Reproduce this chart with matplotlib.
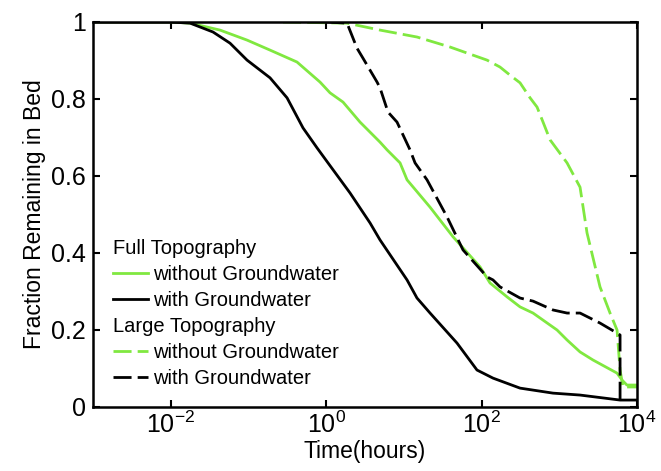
import numpy as np
import matplotlib.pyplot as plt
from matplotlib.lines import Line2D

plt.rcParams['font.family'] = ['Liberation Sans', 'DejaVu Sans']

# log10(time in hours) and fraction remaining
full_nogw_logt = [-3.0, -2.01, -1.75, -1.366, -1.018, -0.722, -0.375, -0.079, 0.05, 0.217,
                  0.436, 0.693, 0.783, 0.951, 1.041, 1.337, 1.633, 1.98, 2.109, 2.328,
                  2.495, 2.662, 2.971, 3.10, 3.267, 3.434, 3.743, 3.807, 3.87, 4.0]
full_nogw_frac = [1.0, 1.0, 0.997, 0.979, 0.953, 0.927, 0.896, 0.844, 0.816, 0.792,
                  0.740, 0.688, 0.668, 0.634, 0.590, 0.519, 0.442, 0.364, 0.322, 0.286,
                  0.260, 0.244, 0.200, 0.174, 0.143, 0.122, 0.088, 0.070, 0.057, 0.057]

full_gw_logt = [-3.0, -2.01, -1.75, -1.456, -1.237, -1.018, -0.722, -0.503, -0.298, -0.117,
                0.024, 0.307, 0.565, 0.693, 1.041, 1.169, 1.337, 1.684, 1.941, 2.147,
                2.495, 2.919, 3.267, 3.782, 4.0]
full_gw_frac = [1.0, 1.0, 0.997, 0.974, 0.945, 0.901, 0.855, 0.803, 0.725, 0.673,
                0.634, 0.556, 0.478, 0.434, 0.330, 0.283, 0.244, 0.166, 0.096, 0.075,
                0.049, 0.036, 0.031, 0.018, 0.018]

large_nogw_logt = [-0.555, 0.269, 0.693, 1.169, 1.594, 2.07, 2.237, 2.366, 2.495, 2.624,
                   2.714, 2.791, 2.881, 3.10, 3.267, 3.357, 3.524, 3.653, 3.743, 3.782,
                   3.82, 4.0]
large_nogw_frac = [1.0, 0.997, 0.979, 0.961, 0.935, 0.901, 0.883, 0.862, 0.842, 0.803,
                   0.779, 0.740, 0.694, 0.634, 0.571, 0.452, 0.312, 0.244, 0.200, 0.096,
                   0.052, 0.052]

large_gw_logt = [0.0, 0.269, 0.397, 0.474, 0.655, 0.693, 0.796, 0.912, 1.079, 1.144,
                 1.298, 1.555, 1.761, 2.07, 2.147, 2.237, 2.495, 2.662, 2.919, 3.10,
                 3.267, 3.524, 3.743, 3.782, 3.782]
large_gw_frac = [1.0, 0.997, 0.932, 0.906, 0.844, 0.829, 0.766, 0.740, 0.668, 0.634,
                 0.590, 0.494, 0.408, 0.338, 0.330, 0.312, 0.283, 0.275, 0.252, 0.244,
                 0.244, 0.218, 0.192, 0.187, 0.01]

green = '#80e840'

fig = plt.figure(figsize=(6.61, 4.71), dpi=100)
ax = fig.add_axes([0.1407, 0.1359, 0.823, 0.8174])

lw = 2.0
dash = (6.5, 2.2)
ax.plot(10 ** np.array(full_nogw_logt), full_nogw_frac, color=green, lw=lw)
ax.plot(10 ** np.array(full_gw_logt), full_gw_frac, color='k', lw=lw)
ax.plot(10 ** np.array(large_nogw_logt), large_nogw_frac, color=green, lw=lw,
        dashes=dash)
ax.plot(10 ** np.array(large_gw_logt), large_gw_frac, color='k', lw=lw,
        dashes=dash)

ax.set_xscale('log')
ax.set_xlim(1e-3, 1e4)
ax.set_ylim(0, 1)
ax.set_xticks([1e-2, 1e0, 1e2, 1e4])
ax.set_yticks([0, 0.2, 0.4, 0.6, 0.8, 1])
ax.set_yticklabels(['0', '0.2', '0.4', '0.6', '0.8', '1'])
ax.xaxis.set_minor_locator(plt.NullLocator())
ax.tick_params(which='both', direction='in', top=True, right=True,
               length=5, width=1.5, labelsize=18, pad=5)
ax.tick_params(axis='x', pad=3)
for s in ax.spines.values():
    s.set_linewidth(1.8)

ax.set_xlabel('Time(hours)', fontsize=16.5, labelpad=2)
ax.set_ylabel('Fraction Remaining in Bed', fontsize=16.5, labelpad=4)

# two stacked legends, each with a left-aligned title
h1 = [Line2D([], [], color=green, lw=lw), Line2D([], [], color='k', lw=lw)]
h2 = [Line2D([], [], color=green, lw=lw, dashes=dash),
      Line2D([], [], color='k', lw=lw, dashes=dash)]
labels = ['without Groundwater', 'with Groundwater']
leg_kw = dict(frameon=False, fontsize=14.5, title_fontsize=14.5, alignment='left',
              handlelength=1.75, handletextpad=0.25, labelspacing=0.35,
              borderpad=0, borderaxespad=0)
leg1 = ax.legend(h1, labels, title='Full Topography', loc='upper left',
                 bbox_to_anchor=(0.037, 0.436), **leg_kw)
ax.add_artist(leg1)
ax.legend(h2, labels, title='Large Topography', loc='upper left',
          bbox_to_anchor=(0.037, 0.233), **leg_kw)

fig.savefig('out.png', dpi=100)
